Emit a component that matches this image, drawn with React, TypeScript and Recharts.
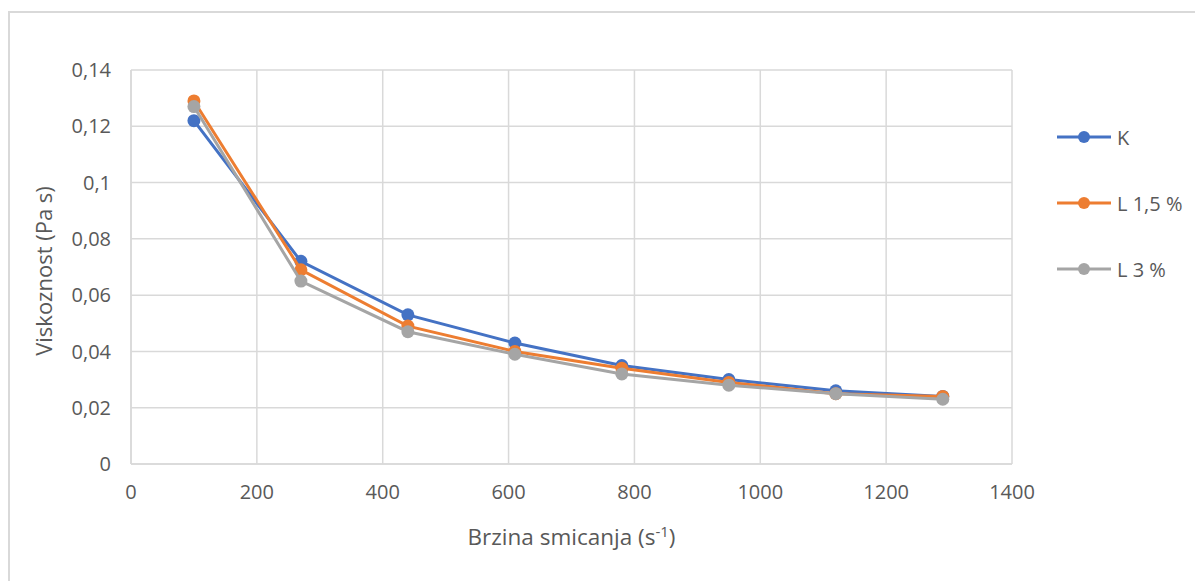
import React from "react";
import {
  ScatterChart,
  Scatter,
  XAxis,
  YAxis,
  CartesianGrid,
  Customized,
} from "recharts";

// shear rate (s^-1)
const shearRate = [100, 270, 440, 610, 780, 950, 1120, 1290];

// viscosity (Pa s) per sample
const viscK = [0.122, 0.072, 0.053, 0.043, 0.035, 0.030, 0.026, 0.024];
const viscL15 = [0.129, 0.069, 0.049, 0.040, 0.034, 0.029, 0.025, 0.024];
const viscL3 = [0.127, 0.065, 0.047, 0.039, 0.032, 0.028, 0.025, 0.023];

const xTicks = [0, 200, 400, 600, 800, 1000, 1200, 1400];
const yTicks = [0, 0.02, 0.04, 0.06, 0.08, 0.1, 0.12, 0.14];

const SERIES = [
  { name: "K", color: "#4472C4", values: viscK },
  { name: "L 1,5 %", color: "#ED7D31", values: viscL15 },
  { name: "L 3 %", color: "#A5A5A5", values: viscL3 },
];

const FONT = "'Open Sans', sans-serif";
const TEXT = "#595959";
const GRID = "#d9d9d9";

const W = 1195;
const H = 573;

const toPoints = (values: number[]) =>
  shearRate.map((x, i) => ({ x, y: values[i] }));

const comma = (v: number) => String(v).replace(".", ",");

function YTitle(props: any) {
  const cx = 35;
  const cy = props.viewBox ? props.viewBox.y + props.viewBox.height / 2 + 4 : 263;
  return (
    <text
      x={cx}
      y={cy}
      transform={`rotate(-90 ${cx} ${cy})`}
      textAnchor="middle"
      dominantBaseline="central"
      fontFamily={FONT}
      fontSize={22}
      fill={TEXT}
    >
      Viskoznost (Pa s)
    </text>
  );
}

function XTitle(props: any) {
  const cx = props.viewBox ? props.viewBox.x + props.viewBox.width / 2 : 562;
  return (
    <text x={cx} y={537} textAnchor="middle" fontFamily={FONT} fontSize={22.5} fill={TEXT}>
      Brzina smicanja (s
      <tspan fontSize={15} dy={-8}>-1</tspan>
      <tspan dy={8}>)</tspan>
    </text>
  );
}

function LegendBox() {
  const x0 = 1049;
  const y0 = 129;
  const gap = 66;
  return (
    <g>
      {SERIES.map((s, i) => {
        const y = y0 + i * gap;
        return (
          <g key={s.name}>
            <line x1={x0} x2={x0 + 54} y1={y} y2={y} stroke={s.color} strokeWidth={3} />
            <circle cx={x0 + 27} cy={y} r={6} fill={s.color} />
            <text
              x={x0 + 60}
              y={y}
              dominantBaseline="central"
              fontFamily={FONT}
              fontSize={20}
              fill={TEXT}
            >
              {s.name}
            </text>
          </g>
        );
      })}
    </g>
  );
}

export default function App() {
  return (
    <div style={{ position: "relative", width: W, height: H }}>
      <div
        style={{
          position: "absolute",
          left: 0,
          top: 3,
          width: W,
          height: H - 3,
          borderTop: `2px solid ${GRID}`,
          borderLeft: `2px solid ${GRID}`,
          boxSizing: "border-box",
        }}
      />
      <div style={{ position: "absolute", left: 0, top: 0 }}>
        <ScatterChart
          width={W}
          height={H}
          margin={{ top: 62, right: 191, left: 0, bottom: 57 }}
        >
          <CartesianGrid stroke={GRID} strokeWidth={1.5} />
          <XAxis
            type="number"
            dataKey="x"
            domain={[0, 1400]}
            ticks={xTicks}
            interval={0}
            height={60}
            axisLine={{ stroke: GRID, strokeWidth: 1.5 }}
            tickLine={false}
            tickSize={0}
            tickMargin={21}
            tick={{ fill: TEXT, fontSize: 20, fontFamily: FONT }}
            label={<XTitle />}
          />
          <YAxis
            type="number"
            dataKey="y"
            domain={[0, 0.14]}
            ticks={yTicks}
            interval={0}
            width={123}
            axisLine={{ stroke: GRID, strokeWidth: 1.5 }}
            tickLine={false}
            tickSize={0}
            tickMargin={20}
            tickFormatter={comma}
            tick={{ fill: TEXT, fontSize: 20, fontFamily: FONT }}
            label={<YTitle />}
          />
          {SERIES.map((s) => (
            <Scatter
              key={s.name}
              name={s.name}
              data={toPoints(s.values)}
              fill={s.color}
              line={{ stroke: s.color, strokeWidth: 3 }}
              lineType="joint"
              isAnimationActive={false}
              shape={(p: any) => <circle cx={p.cx} cy={p.cy} r={6.5} fill={s.color} />}
            />
          ))}
          <Customized component={<LegendBox />} />
        </ScatterChart>
      </div>
    </div>
  );
}
